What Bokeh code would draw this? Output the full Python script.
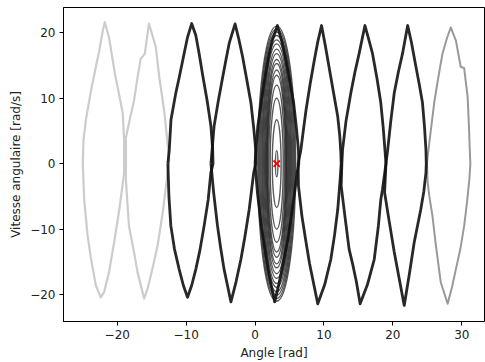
from bokeh.plotting import figure
from bokeh.models import FixedTicker, Range1d
from bokeh.embed import file_html
from bokeh.resources import INLINE

# Phase-space orbits of the pendulum: angle [rad] and angular speed [rad/s]
orbit_m7_angle = [-25.0, -24.9, -24.55, -23.8, -23.1, -22.6, -22.1, -21.8, -21.2, -20.3, -19.95,
                  -19.2, -19.0, -19.0, -19.0, -19.7, -20.45, -21.2, -21.9, -22.4, -23.1, -23.8,
                  -24.3, -24.8, -25.0]
orbit_m7_speed = [0.0, 3.6, 6.7, 11.2, 14.8, 17.3, 20.3, 21.6, 19.3, 13.5, 11.7,
                  7.7, 3.6, 0.6, -1.4, -7.0, -12.0, -16.6, -19.6, -20.4, -18.6, -14.6,
                  -11.0, -5.5, 0.0]

orbit_m5_angle = [-18.75, -18.3, -17.55, -17.05, -16.6, -16.0, -15.4, -14.4, -13.9, -13.2, -12.45,
                  -12.7, -13.4, -14.15, -14.9, -15.6, -16.1, -17.05, -17.55, -18.3, -18.75, -18.75]
orbit_m5_speed = [3.9, 6.2, 9.7, 13.2, 16.0, 16.8, 21.4, 17.8, 13.2, 8.2, 0.6,
                  -1.4, -7.5, -12.5, -16.1, -19.1, -20.6, -16.6, -13.6, -9.5, -2.4, 3.9]

orbit_m3_angle = [-12.65, -12.45, -12.2, -11.5, -11.0, -10.3, -9.8, -9.2, -8.6, -8.1, -7.6, -6.95,
                  -6.4, -6.15, -6.1, -6.42, -6.8, -7.39, -8.0, -8.59, -9.2, -9.8, -10.4, -11.02,
                  -11.7, -12.22, -12.5, -12.65]
orbit_m3_speed = [0.0, 2.1, 6.7, 10.8, 13.2, 16.8, 19.3, 21.4, 19.6, 16.7, 13.5, 9.6,
                  5.7, 2.1, 0.0, -1.4, -5.5, -9.5, -13.2, -16.1, -18.6, -20.4, -18.6, -16.1,
                  -13.0, -9.5, -5.0, 0.0]

orbit_m1_angle = [-6.4, -6.2, -5.95, -5.35, -4.7, -4.2, -3.75, -2.9, -2.35, -1.8, -1.2, -0.6,
                  -0.2, 0.1, 0.1, -0.2, -0.5, -0.85, -1.45, -2.05, -2.75, -3.5, -4.0, -4.5,
                  -5.0, -5.45, -6.0, -6.4]
orbit_m1_speed = [0.0, 2.5, 5.7, 9.5, 13.2, 16.0, 18.4, 21.35, 19.0, 16.3, 12.8, 9.3,
                  5.5, 2.1, 0.0, -1.4, -4.0, -7.0, -11.0, -14.6, -18.0, -21.1, -18.6, -16.1,
                  -12.8, -9.5, -4.5, 0.0]

orbit_p1_angle = [0.0, 0.15, 0.4, 0.9, 1.45, 1.95, 2.5, 3.25, 3.9, 4.4, 5.0, 5.6,
                  6.0, 6.3, 6.35, 6.1, 5.8, 5.4, 4.85, 4.2, 3.5, 2.85, 2.35, 1.9,
                  1.4, 0.9, 0.35, 0.0]
orbit_p1_speed = [0.0, 2.5, 5.7, 9.5, 13.2, 16.2, 18.8, 21.1, 18.6, 16.3, 12.8, 9.3,
                  5.5, 2.1, 0.0, -1.4, -4.0, -7.0, -11.0, -14.6, -18.2, -21.1, -18.6, -16.1,
                  -12.8, -9.5, -4.5, 0.0]

orbit_p3_angle = [6.25, 6.65, 7.0, 7.4, 8.0, 8.6, 9.1, 9.65, 10.2, 11.0, 11.5, 12.0,
                  12.3, 12.45, 12.5, 12.35, 12.0, 11.55, 11.0, 10.1, 9.1, 8.5, 7.9, 7.4,
                  6.8, 6.3, 6.25]
orbit_p3_speed = [0.0, 2.1, 5.0, 8.2, 12.2, 15.8, 18.6, 21.1, 18.0, 13.2, 10.2, 7.2,
                  4.2, 1.7, 0.0, -2.4, -7.0, -10.8, -14.6, -18.5, -21.4, -18.3, -15.2, -12.0,
                  -8.0, -3.4, 0.0]

orbit_p5_angle = [12.6, 12.7, 13.2, 13.9, 14.5, 15.1, 15.95, 16.5, 17.05, 17.7, 18.25, 18.6,
                  18.85, 19.0, 18.5, 18.25, 17.9, 17.3, 16.3, 15.25, 14.7, 14.2, 13.65, 13.1,
                  12.5, 12.6]
orbit_p5_speed = [0.0, 2.1, 6.5, 10.8, 14.0, 16.8, 21.1, 19.0, 16.8, 13.0, 9.3, 5.5,
                  2.1, 0.0, -3.9, -5.5, -9.5, -14.6, -18.5, -21.4, -18.0, -15.5, -13.05, -8.5,
                  -3.4, 0.0]

orbit_p7_angle = [19.0, 19.25, 19.7, 20.2, 20.8, 21.4, 22.15, 22.7, 23.35, 23.85, 24.3, 24.6,
                  24.8, 24.85, 24.8, 24.5, 24.05, 23.1, 22.4, 21.65, 21.0, 20.2, 19.5, 18.8,
                  19.0]
orbit_p7_speed = [0.0, 2.1, 6.5, 10.8, 14.0, 16.8, 21.1, 18.5, 14.8, 12.0, 9.3, 5.5,
                  2.1, 0.0, -1.4, -4.2, -7.0, -12.0, -16.8, -21.65, -18.0, -13.5, -9.0, -4.4,
                  0.0]

orbit_p9_angle = [24.95, 25.05, 25.5, 26.0, 26.6, 27.2, 27.8, 28.4, 29.15, 29.85, 30.35, 30.85,
                  31.05, 31.2, 31.25, 31.1, 30.75, 30.35, 29.8, 29.15, 28.6, 27.95, 26.95, 26.25,
                  25.75, 25.3, 25.05, 24.95]
orbit_p9_speed = [0.0, 1.1, 5.0, 9.3, 13.2, 16.8, 19.0, 20.8, 18.8, 14.8, 14.6, 10.2,
                  5.5, 1.1, 0.0, -2.4, -6.0, -9.5, -13.0, -16.1, -18.8, -21.4, -18.1, -12.5,
                  -8.0, -5.0, -2.9, 0.0]

# Damped orbits spiralling into the stable point: angular amplitude and peak speed
inner_amplitude = [2.75, 2.6, 2.45, 2.3, 2.15, 2.02, 1.88, 1.75, 1.62, 1.5, 1.4,
                   1.3, 1.15, 0.95, 0.64, 0.18]
inner_peak = [21.0, 20.6, 20.1, 19.6, 18.9, 18.3, 17.5, 16.8, 15.9, 15.3, 14.3,
              13.5, 12.0, 10.0, 6.7, 2.0]

# Stable equilibrium
eq_angle = [3.14159]
eq_speed = [0.0]

x_ticks = [-20, -10, 0, 10, 20, 30]
y_ticks = [-20, -10, 0, 10, 20]

p = figure(width=485, height=362, output_backend="svg", toolbar_location=None,
           x_range=Range1d(-27.8, 33.3), y_range=Range1d(-24.1, 23.85),
           min_border_left=63, min_border_right=1, min_border_top=7, min_border_bottom=39)

p.background_fill_color = "white"
p.border_fill_color = "white"
p.outline_line_color = "black"
p.outline_line_width = 1
p.grid.visible = False

for ax, ticks in ((p.xaxis, x_ticks), (p.yaxis, y_ticks)):
    ax.ticker = FixedTicker(ticks=ticks)
    ax.major_label_overrides = {t: (str(t).replace("-", "\u2212")) for t in ticks}
    ax.minor_tick_line_color = None
    ax.major_tick_in = 0
    ax.major_tick_out = 4
    ax.major_tick_line_color = "black"
    ax.axis_line_color = "black"
    ax.major_label_text_font = "DejaVu Sans"
    ax.major_label_text_font_size = "12px"
    ax.major_label_text_color = "#222222"
    ax.major_label_standoff = 4
    ax.axis_label_text_font = "DejaVu Sans"
    ax.axis_label_text_font_size = "12px"
    ax.axis_label_text_font_style = "normal"
    ax.axis_label_text_color = "#222222"
    ax.axis_label_standoff = 4

p.xaxis.axis_label = "Angle [rad]"
p.yaxis.axis_label = "Vitesse angulaire [rad/s]"

# early orbits (light), late orbit (medium grey)
p.multi_line(xs=[orbit_m7_angle, orbit_m5_angle], ys=[orbit_m7_speed, orbit_m5_speed],
             line_color="#cccccc", line_width=2.2, line_join="round")
p.line(orbit_p9_angle, orbit_p9_speed, line_color="#999999", line_width=2.0, line_join="round")

# nested damped orbits around the equilibrium
n_inner = len(inner_amplitude)
p.ellipse(x=eq_angle * n_inner, y=eq_speed * n_inner,
          width=[2 * a for a in inner_amplitude], height=[2 * v for v in inner_peak],
          fill_color=None, line_color="#111111", line_alpha=0.7, line_width=1.4)

# main trajectory
dark_x = [orbit_m3_angle, orbit_m1_angle, orbit_p1_angle, orbit_p3_angle, orbit_p5_angle, orbit_p7_angle]
dark_y = [orbit_m3_speed, orbit_m1_speed, orbit_p1_speed, orbit_p3_speed, orbit_p5_speed, orbit_p7_speed]
p.multi_line(xs=dark_x, ys=dark_y, line_color="#111111", line_width=2.8, line_alpha=0.9,
             line_join="round")

p.scatter(eq_angle, eq_speed, marker="x", size=9, line_color="red", line_width=1.8)

open("out.html", "w").write(file_html(p, INLINE))
